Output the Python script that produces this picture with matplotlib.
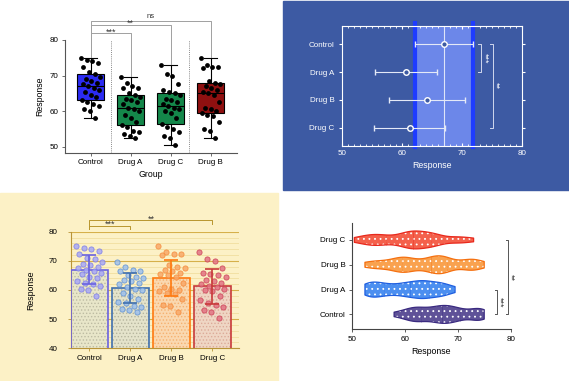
import numpy as np
import matplotlib
matplotlib.use('Agg')
import matplotlib.pyplot as plt
from matplotlib.patches import Rectangle
from matplotlib.ticker import MultipleLocator
from matplotlib import mlab

plt.rcParams['font.family'] = ['Liberation Sans', 'DejaVu Sans']
plt.rcParams['hatch.linewidth'] = 0.6

groups = ['Control', 'Drug A', 'Drug B', 'Drug C']
control = [75.0, 74.5, 74.0, 73.5, 72.5, 71.0, 70.5, 69.5, 69.0, 68.5, 68.0, 67.5, 67.0,
           66.5, 66.0, 65.5, 64.5, 64.0, 63.0, 62.5, 62.0, 61.5, 60.5, 60.0, 58.0]
drug_a = [69.5, 68.0, 67.0, 66.5, 66.5, 65.0, 64.5, 64.0, 63.5, 63.0, 62.5, 62.0, 61.0,
          60.5, 60.0, 59.0, 58.0, 57.0, 56.0, 55.5, 54.5, 54.0, 53.5, 53.0, 52.5]
drug_b = [75.0, 73.0, 72.5, 72.5, 72.0, 68.5, 68.0, 67.5, 67.0, 66.5, 66.0, 65.5, 65.0,
          64.5, 62.5, 61.0, 60.5, 60.0, 59.5, 59.0, 58.5, 57.0, 55.0, 54.5, 52.5]
drug_c = [73.0, 70.5, 70.0, 67.5, 66.0, 65.5, 65.0, 64.5, 63.5, 63.0, 62.5, 62.0, 61.5,
          61.0, 60.5, 60.0, 59.5, 58.0, 56.5, 55.5, 55.0, 54.0, 53.0, 52.5, 50.5]
values = {'Control': control, 'Drug A': drug_a, 'Drug B': drug_b, 'Drug C': drug_c}

box_order = ['Control', 'Drug A', 'Drug C', 'Drug B']
box_colors = ['#2b2bf2', '#14874a', '#14874a', '#8f1010']
sig_box = [('Drug A', '***'), ('Drug C', '**'), ('Drug B', 'ns')]
sig_other = [('Drug A', '***'), ('Drug C', '**')]

means = {g: np.mean(v) for g, v in values.items()}
sds = {g: np.std(v, ddof=1) for g, v in values.items()}

W, H = 569, 381
fig = plt.figure(figsize=(W / 100, H / 100), dpi=100)
fig.patch.set_facecolor('white')

TICK = 5.8
LAB = 6.3


def px_rect(x0, y0, x1, y1, color):
    fig.add_artist(Rectangle((x0 / W, 1 - y1 / H), (x1 - x0) / W, (y1 - y0) / H,
                             transform=fig.transFigure, color=color, zorder=0))


def px_axes(x0, y0, x1, y1):
    return fig.add_axes([x0 / W, 1 - y1 / H, (x1 - x0) / W, (y1 - y0) / H])


def jitter(n, spread):
    return np.array([((i * 7) % n) / (n - 1) - 0.5 for i in range(n)]) * 2 * spread


BLUE_BG = '#3d5aa3'
px_rect(283, 1, 569, 190, BLUE_BG)
px_rect(0, 193, 278, 381, '#fcf1c6')

# ---- top left: box plot
ax1 = px_axes(65, 40, 237, 153)
ax1.set_facecolor('none')
data1 = [values[g] for g in box_order]
bp = ax1.boxplot(data1, positions=range(4), widths=0.67, whis=(0, 100), patch_artist=True,
                 showfliers=False,
                 medianprops=dict(color='black', lw=0.8),
                 whiskerprops=dict(color='black', lw=0.8),
                 capprops=dict(color='black', lw=0.8),
                 boxprops=dict(edgecolor='black', lw=0.8))
for patch, c in zip(bp['boxes'], box_colors):
    patch.set_facecolor(c)
for i, g in enumerate(box_order):
    ax1.scatter(i + jitter(len(values[g]), 0.24), values[g], s=12, color='black', zorder=3, lw=0)
ax1.vlines([0.5, 2.47], 48.2, 80, linestyles=(0, (1, 1.2)), colors='#888888', lw=0.7)
ax1.set_ylim(48.2, 80)
ax1.set_xlim(-0.64, 3.66)
ax1.set_yticks([50, 60, 70, 80])
ax1.set_xticks(range(4))
ax1.set_xticklabels(box_order)
for s in ['top', 'right']:
    ax1.spines[s].set_visible(False)
for s in ['left', 'bottom']:
    ax1.spines[s].set_color('#555555')
    ax1.spines[s].set_linewidth(0.8)
ax1.tick_params(labelsize=TICK, length=2.5, width=0.6, color='#555555', pad=2)
ax1.set_ylabel('Response', fontsize=LAB, labelpad=4)
ax1.set_xlabel('Group', fontsize=LAB, labelpad=3)
tops = {'Drug A': (81.9, 69.8), 'Drug C': (84.2, 73.3), 'Drug B': (85.4, 75.3)}
for g, lab in sig_box:
    xi = box_order.index(g)
    yl, yb = tops[g]
    ax1.plot([0, 0, xi, xi], [75.3, yl, yl, yb], color='#a0a0a0', lw=0.7, clip_on=False)
    if lab == 'ns':
        ax1.text(xi / 2, yl + 0.3, lab, ha='center', va='bottom', fontsize=5.5, color='#333333')
    else:
        ax1.text(xi / 2, yl + 0.4, lab, ha='center', va='center', fontsize=6.5, color='#333333')

# ---- top right: mean +/- SD
ax2 = px_axes(342.3, 25.7, 522.3, 145.7)
ax2.set_facecolor('none')
ypos2 = {'Control': 3, 'Drug A': 2, 'Drug B': 1, 'Drug C': 0}
cm, cs = means['Control'], sds['Control']
ax2.axvspan(cm - cs, cm + cs, color='#6c87e9', zorder=1, lw=0)
for xv in (cm - cs, cm + cs):
    ax2.plot([xv, xv], [-0.69, 3.77], color='#1e3cff', lw=3, clip_on=False, zorder=2)
ax2.axvline(cm, color='#dfe5f8', lw=0.8, zorder=2)
ax2.errorbar([means[g] for g in groups], [ypos2[g] for g in groups],
             xerr=[sds[g] for g in groups], fmt='o', mfc=BLUE_BG, mec='white', ms=4, mew=1,
             ecolor='#e4e9f7', elinewidth=0.8, capsize=2.5, capthick=0.8, zorder=3)
ax2.set_xlim(50, 80)
ax2.set_ylim(-0.65, 3.67)
ax2.set_xticks([50, 60, 70, 80])
ax2.xaxis.set_minor_locator(MultipleLocator(1))
ax2.set_yticks([ypos2[g] for g in groups])
ax2.set_yticklabels(groups)
for s in ax2.spines.values():
    s.set_color('white')
    s.set_linewidth(0.8)
ax2.tick_params(axis='x', which='major', colors='white', labelsize=TICK, length=2.5,
                direction='in', top=True, pad=3)
ax2.tick_params(axis='x', which='minor', colors='white', length=1.3, direction='in', top=True)
ax2.tick_params(axis='y', colors='white', labelsize=TICK, length=2.5, right=True, pad=3)
ax2.set_xlabel('Response', fontsize=LAB, color='white', labelpad=3)
br2 = {'Drug A': (72.7, 73.2, 73.7), 'Drug C': (74.6, 75.07, 75.6)}
for g, lab in sig_other:
    x0, x1, xt = br2[g]
    y0, y1 = ypos2['Control'], ypos2[g]
    ax2.plot([x0, x1, x1, x0], [y0, y0, y1, y1], color='#d0d7ee', lw=0.7, clip_on=False, zorder=3)
    ax2.text(xt, (y0 + y1) / 2, lab, rotation=-90, ha='center', va='center', fontsize=6.5,
             color='white')

# ---- bottom left: bar chart with points
ax3 = px_axes(71, 231.7, 238.7, 348.3)
ax3.set_facecolor('none')
bar_face = ['#e8e6c9', '#e4e3cb', '#fad8b0', '#efd6c4']
bar_hatch = ['#bdbba2', '#b6b59e', '#f5b070', '#dcaa98']
bar_edge = ['#6a62e0', '#3f6fae', '#ff7a10', '#c83a3a']
pt_face = ['#a8a8f5', '#9ec0ec', '#f8a868', '#e27483']
pt_edge = ['#7c7ce8', '#5b8fd4', '#f58a3a', '#cc4056']
x3 = np.arange(4)
m3 = [means[g] for g in groups]
ax3.bar(x3, m3, width=0.89, color=bar_face, edgecolor=bar_hatch, hatch='.....', lw=0, zorder=2)
ax3.bar(x3, m3, width=0.89, fill=False, edgecolor=bar_edge, lw=1.2, zorder=3)
for i, g in enumerate(groups):
    ax3.scatter(i + jitter(len(values[g]), 0.32), values[g], s=14, color=pt_face[i],
                edgecolor=pt_edge[i], lw=0.6, alpha=0.85, zorder=4)
    ax3.errorbar(i, means[g], yerr=sds[g], color=bar_edge[i], lw=1.2, capsize=5,
                 capthick=1.2, zorder=5)
ax3.set_ylim(40, 80)
ax3.set_xlim(-0.445, 3.64)
ax3.yaxis.set_major_locator(MultipleLocator(10))
ax3.yaxis.set_minor_locator(MultipleLocator(2))
ax3.grid(which='major', axis='y', color='#d6b04a', lw=0.8, zorder=0)
ax3.grid(which='minor', axis='y', color='#eedb98', lw=0.5, zorder=0)
ax3.set_axisbelow(True)
ax3.set_xticks(x3)
ax3.set_xticklabels(groups)
for s in ['top', 'right']:
    ax3.spines[s].set_visible(False)
for s in ['left', 'bottom']:
    ax3.spines[s].set_color('#b89438')
    ax3.spines[s].set_linewidth(0.8)
ax3.tick_params(axis='x', labelsize=TICK, length=2.5, width=0.6, color='#b89438', pad=2)
ax3.tick_params(axis='y', labelsize=TICK, length=2.5, width=0.6, color='#b89438', pad=7)
ax3.tick_params(which='minor', length=0)
ax3.set_ylabel('Response', fontsize=LAB, labelpad=10)
br3 = {'Drug A': (82.0, 80.9), 'Drug C': (83.9, 82.6)}
for g, lab in sig_other:
    xi = groups.index(g)
    yl, yb = br3[g]
    ax3.plot([0, 0, xi, xi], [80.9, yl, yl, yb], color='#b8962e', lw=0.7, clip_on=False)
    ax3.text(xi / 2, yl + 0.5, lab, ha='center', va='center', fontsize=6.5, color='#333333')

# ---- bottom right: violins
ax4 = px_axes(351.7, 223.3, 510.7, 329.3)
vio_face = ['#5f5298', '#4c8ff0', '#f9a24f', '#f4614c']
vio_edge = ['#3a2a80', '#1f5fe0', '#f57010', '#e8281c']
for i, g in enumerate(groups):
    d = np.array(values[g])
    kde = mlab.GaussianKDE(d, bw_method=0.3)
    xs = np.linspace(d.min(), d.max(), 200)
    dens = kde.evaluate(xs)
    w = dens / dens.max() * 0.36
    ax4.fill_between(xs, i - w, i + w, facecolor=vio_face[i], edgecolor='white',
                     hatch='...', lw=0)
    ax4.fill_between(xs, i - w, i + w, facecolor='none', edgecolor=vio_edge[i], lw=0.9)
    for q, ls in ((50, '-'), (25, ':'), (75, ':')):
        qv = np.percentile(d, q)
        wq = np.interp(qv, xs, w)
        ax4.plot([qv, qv], [i - wq, i + wq], color=vio_edge[i], lw=0.4, ls=ls, alpha=0.7)
ax4.set_xlim(50, 80)
ax4.set_ylim(-0.6, 3.67)
ax4.set_xticks([50, 60, 70, 80])
ax4.set_yticks(range(4))
ax4.set_yticklabels(groups)
for s in ['top', 'right']:
    ax4.spines[s].set_visible(False)
for s in ['left', 'bottom']:
    ax4.spines[s].set_color('#444444')
    ax4.spines[s].set_linewidth(0.8)
ax4.tick_params(labelsize=TICK, length=2.5, width=0.6, color='#444444', pad=2)
ax4.set_xlabel('Response', fontsize=LAB, labelpad=3)
br4 = {'Drug A': (77.04, 77.47, 78.0), 'Drug C': (79.06, 79.5, 80.0)}
for g, lab in sig_other:
    x0, x1, xt = br4[g]
    y0, y1 = 0, groups.index(g)
    ax4.plot([x0, x1, x1, x0], [y0, y0, y1, y1], color='#555555', lw=0.7, clip_on=False)
    ax4.text(xt, (y0 + y1) / 2, lab, rotation=-90, ha='center', va='center', fontsize=6.5,
             color='#333333')

fig.savefig('out.png', dpi=100)
